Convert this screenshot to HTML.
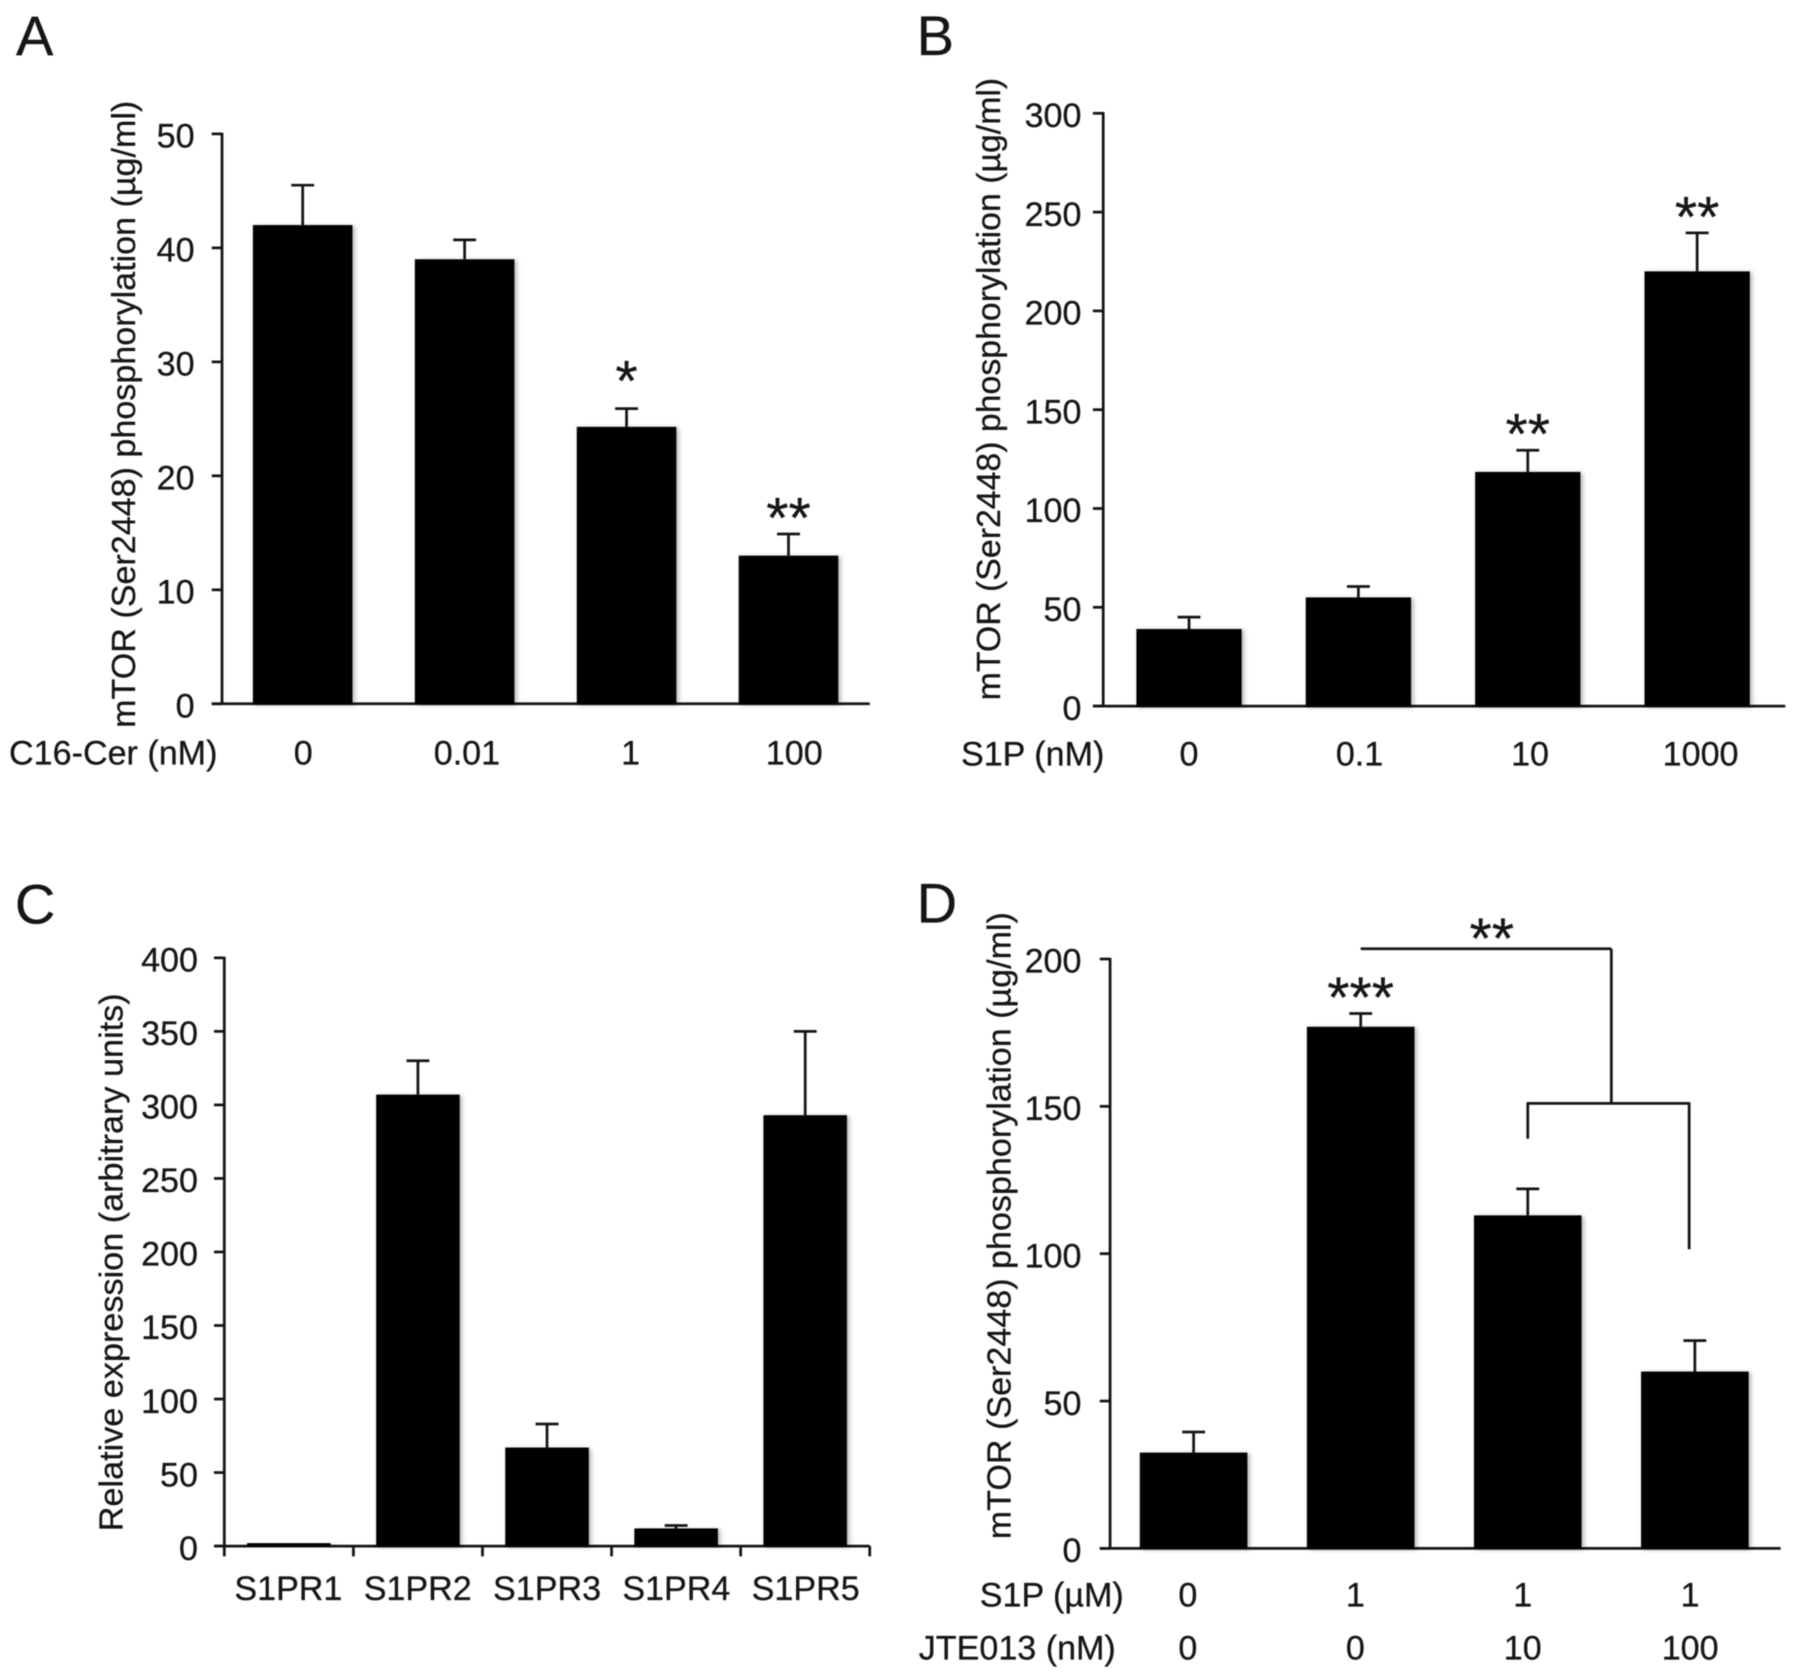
<!DOCTYPE html>
<html lang="en">
<head>
<meta charset="utf-8">
<title>mTOR phosphorylation and S1PR expression charts</title>
<style>
html,body{margin:0;padding:0;background:#fff;width:1795px;height:1677px;overflow:hidden}
svg{display:block;filter:blur(.6px)}
text{font-family:"Liberation Sans",Arial,sans-serif;fill:#161616;stroke:#161616;stroke-width:.25px}
</style>
</head>
<body>
<svg id="figure" xmlns="http://www.w3.org/2000/svg" width="1795" height="1677" viewBox="0 0 1568.5 1465.4">
  <defs>
    <filter id="soft" x="-10%" y="-10%" width="125%" height="125%">
      <feDropShadow dx="2" dy="1" stdDeviation="2" flood-color="#000" flood-opacity=".3"/>
    </filter>
  </defs>
  <rect width="1568.5" height="1465.4" fill="#fff"/>
  <text x="14" y="48" font-size="49">A</text>
  <text x="801" y="48" font-size="49">B</text>
  <text x="13" y="807" font-size="49">C</text>
  <text x="801" y="806" font-size="49">D</text>

  <text transform="translate(118,636) rotate(-90)" font-size="29.5" textLength="548" lengthAdjust="spacingAndGlyphs">mTOR (Ser2448) phosphorylation (µg/ml)</text>
  <text transform="translate(874,612) rotate(-90)" font-size="29.5" textLength="544" lengthAdjust="spacingAndGlyphs">mTOR (Ser2448) phosphorylation (µg/ml)</text>
  <text transform="translate(107,1338) rotate(-90)" font-size="29" textLength="470" lengthAdjust="spacingAndGlyphs">Relative expression (arbitrary units)</text>
  <text transform="translate(883,1345) rotate(-90)" font-size="29.5" textLength="548" lengthAdjust="spacingAndGlyphs">mTOR (Ser2448) phosphorylation (µg/ml)</text>

  <text x="190" y="668" font-size="29.8" text-anchor="end">C16-Cer (nM)</text>
  <text x="965" y="669" font-size="29.8" text-anchor="end">S1P (nM)</text>
  <text x="982" y="1404" font-size="29.8" text-anchor="end">S1P (µM)</text>
  <text x="975" y="1450" font-size="29.8" text-anchor="end">JTE013 (nM)</text>
</svg>

<script>
// Panel A
const aCategories = ["0", "0.01", "1", "100"];
const aValues = [42, 39, 24.3, 13];
const aErrors = [3.5, 1.7, 1.6, 1.9];
const aStars = ["", "", "*", "**"];
const aTicks = ["0", "10", "20", "30", "40", "50"];

// Panel B
const bCategories = ["0", "0.1", "10", "1000"];
const bValues = [39, 55, 118.5, 220];
const bErrors = [6, 5.5, 11, 19.5];
const bStars = ["", "", "**", "**"];
const bTicks = ["0", "50", "100", "150", "200", "250", "300"];

// Panel C
const cCategories = ["S1PR1", "S1PR2", "S1PR3", "S1PR4", "S1PR5"];
const cValues = [2, 307, 67, 12, 293];
const cErrors = [0, 23, 16, 2, 57];
const cStars = ["", "", "", "", ""];
const cTicks = ["0", "50", "100", "150", "200", "250", "300", "350", "400"];

// Panel D
const dS1pLabels = ["0", "1", "1", "1"];
const dJteLabels = ["0", "0", "10", "100"];
const dValues = [32.5, 177, 113, 60];
const dErrors = [7, 4.5, 9, 10.5];
const dStars = ["", "***", "", ""];
const dTicks = ["0", "50", "100", "150", "200"];
const dBracketLevels = [203.5, 151, 139, 101.5];

const SVG_NS = "http://www.w3.org/2000/svg";
const figure = document.getElementById("figure");
const INK = "#141414";
const LINE = 2.4;
const LABEL_SIZE = 29.8;
const STAR_SIZE = 50;

function make(tag, attrs, parent, content) {
  const el = document.createElementNS(SVG_NS, tag);
  for (const k in attrs) el.setAttribute(k, attrs[k]);
  if (content !== undefined) el.textContent = content;
  (parent || figure).appendChild(el);
  return el;
}

function drawLine(parent, x1, y1, x2, y2, width, name) {
  const el = make("line", { x1: x1, y1: y1, x2: x2, y2: y2, stroke: INK, "stroke-width": width }, parent);
  
  
  return el;
}

function drawPanel(p) {
  const group = make("g", {});
  
  

  const yMax = Number(p.ticks[p.ticks.length - 1]);
  const yScale = v => p.y0 - (v / yMax) * (p.y0 - p.yTop);
  const xScale = i => p.axisX + p.bandStart + p.bandStep * i;
  const labelX = i => p.labelStart + p.labelStep * i;

  // y axis + x axis
  drawLine(group, p.axisX, p.yTop - 1, p.axisX, p.y0 + 1, LINE, 'panel-' + p.id + '-y-axis');
  drawLine(group, p.axisX - p.tickLen, p.y0, p.axisRight, p.y0, LINE, 'panel-' + p.id + '-x-axis');

  // y ticks and labels
  p.ticks.forEach((t, i) => {
    const yy = yScale(Number(t));
    drawLine(group, p.axisX - p.tickLen, yy, p.axisX, yy, LINE, 'panel-' + p.id + '-y-tick-' + t);
    const label = make("text", { x: p.axisX - p.tickGap, y: yy + 12, "font-size": LABEL_SIZE, "text-anchor": "end" }, group, t);
    
    
  });

  // bars and error bars
  p.values.forEach((v, i) => {
    const cx = xScale(i);
    const top = yScale(v);
    const bar = make("rect", { x: cx - p.barWidth / 2, y: top, width: p.barWidth, height: p.y0 - top, fill: "#000", filter: "url(#soft)" }, group);
    
    

    const errTop = yScale(v + p.errors[i]);
    if (p.errors[i] > 0) {
      drawLine(group, cx, top, cx, errTop, LINE, 'panel-' + p.id + '-error-stem-' + i);
      drawLine(group, cx - 10, errTop, cx + 10, errTop, LINE, 'panel-' + p.id + '-error-cap-' + i);
    }

    const star = p.stars[i];
    if (star) {
      const gap = star.length === 1 ? 32 : 22;
      const mark = make("text", { x: cx, y: errTop - gap + 25, "font-size": STAR_SIZE, "text-anchor": "middle", "stroke-width": 0.8 }, group, star);
      
      
    }
  });

  // x labels
  p.labelRows.forEach((row, r) => {
    row.labels.forEach((t, i) => {
      const label = make("text", { x: labelX(i), y: row.y, "font-size": LABEL_SIZE, "text-anchor": "middle" }, group, t);
      
      
    });
  });

  // x ticks at category boundaries
  if (p.xTicks) {
    for (let i = 0; i <= p.values.length; i++) {
      const tx = p.axisX + (p.axisRight - p.axisX) * i / p.values.length;
      drawLine(group, tx, p.y0, tx, p.y0 + p.tickLen, LINE, 'panel-' + p.id + '-x-tick-' + i);
    }
  }
  return { xScale, yScale, group };
}

drawPanel({ id: "a", axisX: 194, axisRight: 760, y0: 615, yTop: 117, tickLen: 9, tickGap: 24,
  bandStart: 70.5, bandStep: 141.5, barWidth: 87, ticks: aTicks, values: aValues, errors: aErrors, stars: aStars,
  labelStart: 265, labelStep: 143, labelRows: [{ labels: aCategories, y: 668 }] });

drawPanel({ id: "b", axisX: 964, axisRight: 1560, y0: 617, yTop: 99, tickLen: 9, tickGap: 19,
  bandStart: 75, bandStep: 148, barWidth: 92, ticks: bTicks, values: bValues, errors: bErrors, stars: bStars,
  labelStart: 1039, labelStep: 149, labelRows: [{ labels: bCategories, y: 669 }] });

drawPanel({ id: "c", axisX: 196, axisRight: 760, y0: 1351, yTop: 837, tickLen: 9, tickGap: 23,
  bandStart: 56.4, bandStep: 112.8, barWidth: 73, ticks: cTicks, values: cValues, errors: cErrors, stars: cStars,
  xTicks: true, labelStart: 252, labelStep: 113, labelRows: [{ labels: cCategories, y: 1398 }] });

const panelD = drawPanel({ id: "d", axisX: 970, axisRight: 1556, y0: 1353, yTop: 838, tickLen: 9, tickGap: 25,
  bandStart: 73, bandStep: 146, barWidth: 94, ticks: dTicks, values: dValues, errors: dErrors, stars: dStars,
  labelStart: 1038, labelStep: 146.3, labelRows: [{ labels: dS1pLabels, y: 1404 }, { labels: dJteLabels, y: 1450 }] });

// Panel D comparison brackets, anchored to the bar and value axes
(function () {
  const [topLevel, midLevel, leftEnd, rightEnd] = dBracketLevels;
  const x1 = panelD.xScale(1), x2 = panelD.xScale(2), x3 = panelD.xScale(3);
  const xMid = (x2 + x3) / 2;
  const yTopB = panelD.yScale(topLevel), yMidB = panelD.yScale(midLevel);
  drawLine(panelD.group, x1, yTopB, xMid, yTopB, LINE, 'bracket-top-horizontal');
  drawLine(panelD.group, xMid, yTopB, xMid, yMidB, LINE, 'bracket-drop');
  drawLine(panelD.group, x2, yMidB, x3 - 5, yMidB, LINE, 'bracket-lower-horizontal');
  drawLine(panelD.group, x2, yMidB - 1, x2, panelD.yScale(leftEnd), LINE, 'bracket-left-leg');
  drawLine(panelD.group, x3 - 5, yMidB - 1, x3 - 5, panelD.yScale(rightEnd), LINE, 'bracket-right-leg');
  const stars = make("text", { x: (x1 + xMid) / 2 + 5, y: yTopB + 8, "font-size": STAR_SIZE, "text-anchor": "middle", "stroke-width": 0.8 }, panelD.group, "**");
  
  
})();
</script>
</body>
</html>
